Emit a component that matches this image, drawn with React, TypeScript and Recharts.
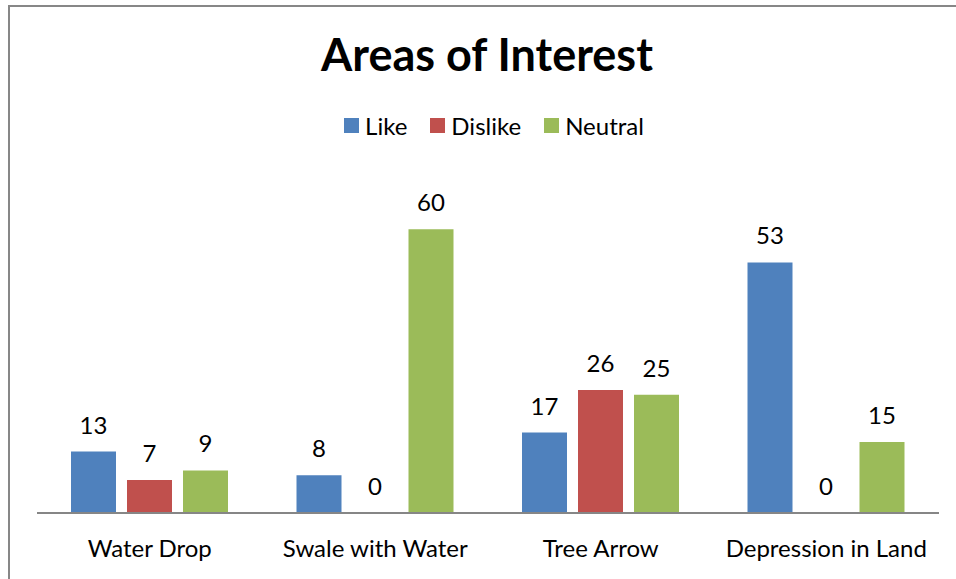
import { BarChart, Bar, XAxis, YAxis, LabelList } from "recharts";

const categories = ["Water Drop", "Swale with Water", "Tree Arrow", "Depression in Land"];
const like = [13, 8, 17, 53];
const dislike = [7, 0, 26, 0];
const neutral = [9, 60, 25, 15];

const SERIES = [
  { key: "Like", color: "#4F81BD" },
  { key: "Dislike", color: "#C0504D" },
  { key: "Neutral", color: "#9BBB59" },
];

const data = categories.map((name, i) => ({
  name,
  Like: like[i],
  Dislike: dislike[i],
  Neutral: neutral[i],
}));

const FONT = "Lato, 'Open Sans', sans-serif";

function ChartLegend() {
  return (
    <div style={{ position: "absolute", left: 7, top: 111, width: 974, display: "flex", justifyContent: "center", gap: 23, fontFamily: FONT, fontSize: 24, color: "#000" }}>
      {SERIES.map((s) => (
        <div key={s.key} style={{ display: "flex", alignItems: "center" }}>
          <span style={{ width: 15, height: 15, background: s.color, marginRight: 6, display: "inline-block" }} />
          <span>{s.key}</span>
        </div>
      ))}
    </div>
  );
}

export default function App() {
  return (
    <div style={{ position: "absolute", left: 0, top: 0, width: 956, height: 579, overflow: "hidden", background: "#fff" }}>
      <div style={{ position: "absolute", left: 8, top: 5, width: 990, height: 600, border: "2px solid #878787" }} />
      <div style={{ position: "absolute", left: 0, top: 27, width: 974, textAlign: "center", fontFamily: FONT, fontWeight: 700, fontSize: 45, color: "#000" }}>
        Areas of Interest
      </div>
      <ChartLegend />
      <div style={{ position: "absolute", left: 0, top: 0 }}>
        <BarChart width={956} height={579} data={data} margin={{ top: 182, right: 17, bottom: 16, left: 37 }} barSize={45} barGap={11}>
          <XAxis dataKey="name" height={50} axisLine={{ stroke: "#868686", strokeWidth: 2 }} tickLine={false} tickSize={0} tickMargin={27}
            tick={{ fontSize: 24, fill: "#000", fontFamily: FONT }} interval={0} />
          <YAxis hide domain={[0, 70]} />
          {SERIES.map((s) => (
            <Bar key={s.key} dataKey={s.key} fill={s.color} isAnimationActive={false}
              minPointSize={(v: number) => (v === 0 ? 0.01 : 0)}>
              <LabelList dataKey={s.key} position="top" offset={18} style={{ fontSize: 24, fill: "#000", fontFamily: FONT }} />
            </Bar>
          ))}
        </BarChart>
      </div>
    </div>
  );
}
